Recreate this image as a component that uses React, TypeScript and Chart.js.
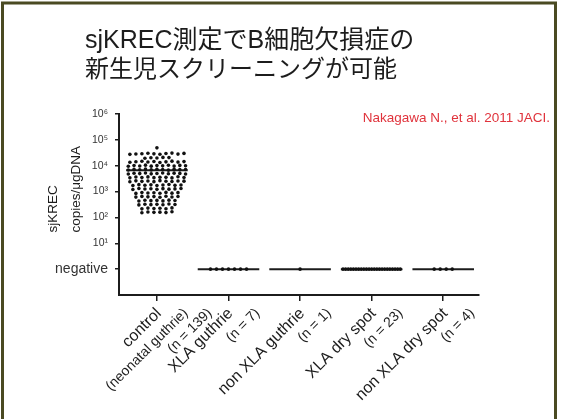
import React, { useEffect, useRef } from 'react';
import { Chart, registerables } from 'chart.js';

Chart.register(...registerables);

const TITLE_LINES = ['sjKREC測定でB細胞欠損症の', '新生児スクリーニングが可能'];
const CITATION = 'Nakagawa N., et al. 2011 JACI.';
const Y_TITLE = ['sjKREC', 'copies/μgDNA'];

// Samples below the detection limit sit on the "negative" row.
const NEG = 1;

const groupNames = ['control', 'XLA guthrie', 'non XLA guthrie', 'XLA dry spot', 'non XLA dry spot'];
const groupNotes = [['(neonatal guthrie)', '(n = 139)'], ['(n = 7)'], ['(n = 1)'], ['(n = 23)'], ['(n = 4)']];

const yTickValues = [NEG, 1e1, 1e2, 1e3, 1e4, 1e5, 1e6];
const yTickLabels = ['negative', '10¹', '10²', '10³', '10⁴', '10⁵', '10⁶'];

// sjKREC copies / μg DNA, control neonatal Guthrie cards
const controlCopies = [
  49000,
  27500, 28300, 29100, 30200, 28800, 27900, 29600, 30700, 28100, 29900,
  19400, 20300, 19800, 21000, 20600,
  13600, 14300, 14900, 13900, 14600, 13400, 14100, 15000, 13800, 14400,
  9500, 10200, 9800, 10500, 9600, 10100, 9900, 10400, 9700, 10300, 10000,
  6800, 7200, 7000, 7400, 6900, 7300, 7100, 6750, 7350, 7050, 7150,
  4800, 5100, 4950, 5250, 4850, 5000, 5200, 4900, 5150, 5050, 4780,
  3400, 3650, 3500, 3700, 3450, 3600, 3550, 3380, 3720, 3520,
  2400, 2600, 2480, 2550, 2420, 2640, 2500, 2450, 2580, 2530,
  1700, 1850, 1760, 1820, 1720, 1800, 1870, 1740, 1790,
  1200, 1310, 1250, 1280, 1220, 1300, 1240, 1270, 1320,
  850, 920, 880, 900, 860, 930, 870, 910,
  610, 650, 625, 640, 605, 660, 620, 645,
  430, 460, 445, 455, 435, 465, 450,
  305, 325, 312, 320, 308, 330, 318,
  215, 230, 222, 226, 218, 234,
  152, 163, 157, 160, 154, 166,
];
const xlaGuthrie = [NEG, NEG, NEG, NEG, NEG, NEG, NEG];
const nonXlaGuthrie = [NEG];
const xlaDrySpot = [
  NEG, NEG, NEG, NEG, NEG, NEG, NEG, NEG, NEG, NEG, NEG, NEG,
  NEG, NEG, NEG, NEG, NEG, NEG, NEG, NEG, NEG, NEG, NEG,
];
const nonXlaDrySpot = [NEG, NEG, NEG, NEG];

const groupValues = [controlCopies, xlaGuthrie, nonXlaGuthrie, xlaDrySpot, nonXlaDrySpot];

const LATIN = "'Liberation Sans', Arial, 'DejaVu Sans', sans-serif";
const TITLE_FAMILY = "'Liberation Sans', 'Noto Sans CJK JP', sans-serif";
const INK = '#1c1c1c';

// scatter layout (x in category units)
const DOT_STEP = 0.084;
const MAX_SPREAD = 0.8;
const ROW_LOG = 0.15;
const MEAN_HALF = 0.43;

// Spread points that share a row sideways, column-scatter style.
function swarm(values: number[], gi: number) {
  const rows = new Map<number, number[]>();
  values.forEach((v) => {
    const key = Math.round((Math.log10(v) - 2.2) / ROW_LOG);
    if (!rows.has(key)) rows.set(key, []);
    rows.get(key)!.push(v);
  });
  const pts: { x: number; y: number }[] = [];
  rows.forEach((vals) => {
    const n = vals.length;
    const s = n > 1 ? Math.min(DOT_STEP, MAX_SPREAD / (n - 1)) : 0;
    vals.forEach((v, j) => pts.push({ x: gi + (j - (n - 1) / 2) * s, y: v }));
  });
  return pts;
}

const decorations = {
  id: 'decorations',
  beforeDraw(chart: any) {
    const { ctx, width, height } = chart;
    ctx.save();
    ctx.fillStyle = '#ffffff';
    ctx.fillRect(0, 0, width, height);
    ctx.restore();
  },
  beforeDatasetsDraw(chart: any) {
    const { ctx } = chart;
    const { x, y } = chart.scales;
    ctx.save();
    ctx.strokeStyle = INK;
    ctx.lineWidth = 2;
    groupValues.forEach((vals, i) => {
      const mean = vals.reduce((a, b) => a + b, 0) / vals.length;
      const py = y.getPixelForValue(mean);
      ctx.beginPath();
      ctx.moveTo(x.getPixelForValue(i - MEAN_HALF), py);
      ctx.lineTo(x.getPixelForValue(i + MEAN_HALF), py);
      ctx.stroke();
    });
    ctx.restore();
  },
  afterDraw(chart: any) {
    const { ctx, chartArea } = chart;
    const xs = chart.scales.x;
    ctx.save();

    // slide frame
    ctx.strokeStyle = '#4a4a22';
    ctx.lineWidth = 3;
    ctx.strokeRect(2.5, 3, 553, 440);

    // heading
    ctx.fillStyle = INK;
    ctx.textAlign = 'left';
    ctx.textBaseline = 'alphabetic';
    ctx.font = `25px ${TITLE_FAMILY}`;
    ctx.fillText(TITLE_LINES[0], 85, 48);
    ctx.font = `24px ${TITLE_FAMILY}`;
    ctx.fillText(TITLE_LINES[1], 85, 77);

    // reference
    ctx.fillStyle = '#e0333c';
    ctx.font = `13.5px ${LATIN}`;
    ctx.textAlign = 'right';
    ctx.fillText(CITATION, 550, 121.5);

    // y-axis title, two lines reading upward
    ctx.fillStyle = INK;
    ctx.font = `13.5px ${LATIN}`;
    ctx.textAlign = 'left';
    [56.7, 80].forEach((bx, k) => {
      ctx.save();
      ctx.translate(bx, 232.5);
      ctx.rotate(-Math.PI / 2);
      ctx.fillText(Y_TITLE[k], 0, 0);
      ctx.restore();
    });

    // category labels, rotated 45°, each line stepped to the right
    ctx.textAlign = 'right';
    ctx.textBaseline = 'middle';
    const lineShift = [2, 29, 53];
    groupNames.forEach((name, i) => {
      const tx = xs.getPixelForValue(i);
      const lines = [name, ...groupNotes[i]];
      lines.forEach((line, k) => {
        ctx.save();
        ctx.translate(tx + lineShift[k], chartArea.bottom + 16);
        ctx.rotate(-Math.PI / 4);
        ctx.font = k === 0 ? `16px ${LATIN}` : `14px ${LATIN}`;
        ctx.fillText(line, 0, 0);
        ctx.restore();
      });
    });
    ctx.restore();
  },
};

export default function App() {
  const ref = useRef<HTMLCanvasElement>(null);

  useEffect(() => {
    if (!ref.current) return;
    const chart = new Chart(ref.current, {
      type: 'scatter',
      data: {
        datasets: groupValues.map((vals, i) => ({
          label: groupNames[i],
          data: swarm(vals, i),
          pointRadius: 1.8,
          pointBackgroundColor: '#111',
          pointBorderWidth: 0,
        })),
      },
      options: {
        animation: false,
        responsive: false,
        devicePixelRatio: 1,
        layout: { padding: { top: 114, right: 84, left: 0, bottom: 0 } },
        plugins: {
          legend: { display: false },
          tooltip: { enabled: false },
          title: { display: false },
        },
        scales: {
          x: {
            type: 'linear',
            min: -0.53,
            max: 4.5,
            afterBuildTicks: (s: any) => {
              s.ticks = groupNames.map((_, i) => ({ value: i }));
            },
            afterFit: (s: any) => {
              s.height = 124;
            },
            ticks: { display: false },
            grid: { drawOnChartArea: false, drawTicks: true, tickLength: 6, color: INK, lineWidth: 1.5 },
            border: { color: INK, width: 2 },
          },
          y: {
            type: 'logarithmic',
            min: 0.1,
            max: 1e6,
            afterBuildTicks: (s: any) => {
              s.ticks = yTickValues.map((v) => ({ value: v }));
            },
            afterFit: (s: any) => {
              s.width = 119;
            },
            ticks: {
              autoSkip: false,
              padding: 7,
              color: '#333',
              font: (c: any) => ({ family: LATIN, size: c.tick && c.tick.value === NEG ? 14 : 10.5 }),
              callback: (v: any) => {
                const idx = yTickValues.indexOf(Number(v));
                return idx >= 0 ? yTickLabels[idx] : '';
              },
            },
            grid: { drawOnChartArea: false, drawTicks: true, tickLength: 4, color: INK, lineWidth: 1.5 },
            border: { color: INK, width: 2 },
          },
        },
      },
      plugins: [decorations],
    });
    return () => chart.destroy();
  }, []);

  return (
    <div style={{ position: 'fixed', left: 0, top: 0, width: 563, height: 419 }}>
      <canvas ref={ref} width={563} height={419} style={{ display: 'block' }} />
    </div>
  );
}
